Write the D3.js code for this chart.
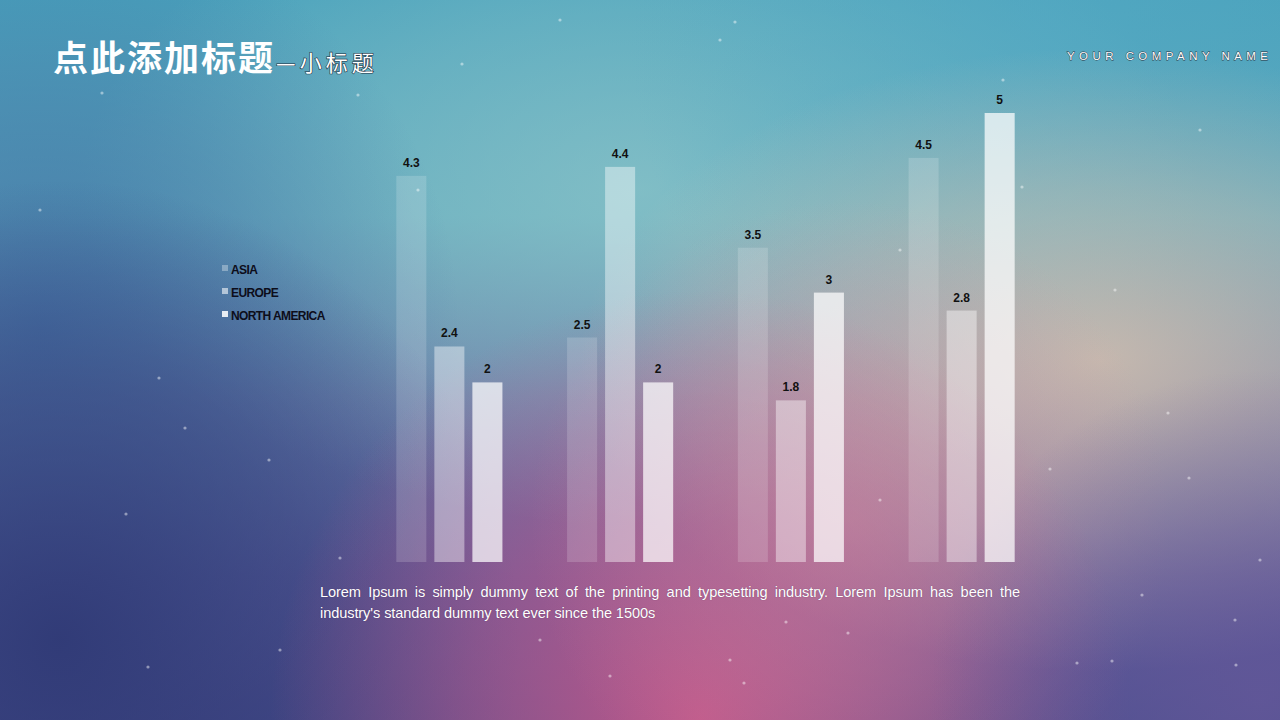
<!DOCTYPE html>
<html>
<head>
<meta charset="utf-8">
<script src="https://cdnjs.cloudflare.com/ajax/libs/d3/7.8.5/d3.min.js"></script>
<style>
html,body{margin:0;padding:0;width:1280px;height:720px;overflow:hidden;background:#4a6a9a;}
#wrap{position:relative;width:1280px;height:720px;}
svg{position:absolute;left:0;top:0;}
#desc{position:absolute;left:320px;top:582px;width:700px;color:#fff;font-family:"Liberation Sans",Arial,sans-serif;font-size:14.6px;line-height:21px;text-align:justify;text-align-last:left;letter-spacing:-0.1px;text-shadow:0 0 1px rgba(60,30,70,0.6);}
</style>
</head>
<body>
<div id="wrap">
<svg id="chart" width="1280" height="720"></svg>
<div id="desc">Lorem Ipsum is simply dummy text of the printing and typesetting industry. Lorem Ipsum has been the industry's standard dummy text ever since the 1500s</div>
</div>
<script>
const categories = ["Category 1", "Category 2", "Category 3", "Category 4"];
const seriesNames = ["ASIA", "EUROPE", "NORTH AMERICA"];
const asia = [4.3, 2.5, 3.5, 4.5];
const europe = [2.4, 4.4, 1.8, 2.8];
const northAmerica = [2, 2, 3, 5];
const seriesValues = [asia, europe, northAmerica];
const seriesOpacity = [0.17, 0.42, 0.72];
const titleText = "点此添加标题";
const subtitleText = "—小标题";
const companyText = "YOUR COMPANY NAME";

const svg = d3.select("#chart");
const defs = svg.append("defs");

// background gradients
const lin = defs.append("linearGradient").attr("id","bgLin").attr("x1",0).attr("y1",0).attr("x2",0).attr("y2",1);
[[0,"#4aa2bc"],[0.3,"#5fa8bc"],[0.55,"#6a7aa6"],[0.8,"#5a5a98"],[1,"#4a4f8e"]].forEach(s=>lin.append("stop").attr("offset",s[0]).attr("stop-color",s[1]));

function radial(id, cx, cy, r, color, op, sy){
  const g = defs.append("radialGradient").attr("id",id).attr("gradientUnits","userSpaceOnUse")
    .attr("cx",cx).attr("cy",cy).attr("r",r);
  if (sy) g.attr("gradientTransform",`translate(0,${cy}) scale(1,${sy}) translate(0,${-cy})`);
  g.append("stop").attr("offset",0).attr("stop-color",color).attr("stop-opacity",op);
  g.append("stop").attr("offset",0.55).attr("stop-color",color).attr("stop-opacity",op*0.5);
  g.append("stop").attr("offset",1).attr("stop-color",color).attr("stop-opacity",0);
  svg.append("rect").attr("width",1280).attr("height",720).attr("fill",`url(#${id})`);
}
svg.append("rect").attr("width",1280).attr("height",720).attr("fill","url(#bgLin)");
radial("gTop", 640, 190, 560, "#98cccc", 0.6, 0.6);
radial("gTopR", 1050, 40, 420, "#55aac4", 0.6);
radial("gLeft", 40, 330, 420, "#3d6aa2", 0.75);
radial("gBL", 60, 640, 460, "#2e3874", 0.9);
radial("gPeach", 1100, 360, 520, "#d6c0ae", 0.85, 0.6);
radial("gPink", 700, 720, 430, "#d45a8a", 0.85);
radial("gPinkMid", 850, 520, 320, "#d890a2", 0.45);
radial("gBR", 1260, 700, 330, "#66589a", 0.75);

// decorative stars
const stars = [[560,20],[735,22],[462,64],[720,40],[1003,80],[1022,187],[1115,290],[1168,413],[1189,478],[1050,469],[1142,595],[1077,663],[1112,661],[1236,665],[848,633],[786,622],[148,667],[102,93],[159,378],[185,428],[126,514],[340,558],[269,460],[40,210],[358,95],[418,190],[540,640],[610,676],[744,683],[730,660],[1260,560],[1200,130],[900,250],[880,500],[1235,620],[280,650]];
svg.append("g").selectAll("circle").data(stars).join("circle")
  .attr("cx",d=>d[0]).attr("cy",d=>d[1]).attr("r",1.6).attr("fill","#fff").attr("opacity",0.45);

// chart
const x0 = d3.scaleBand().domain(categories).range([364,1047]).paddingInner(0).paddingOuter(0);
const x1 = d3.scaleBand().domain(seriesNames).range([0,x0.bandwidth()]).paddingInner(0.21).paddingOuter(0.85);
const y = d3.scaleLinear().domain([0,5]).range([562,113]);

const groups = svg.append("g").selectAll("g").data(categories).join("g")
  .attr("transform",c=>`translate(${x0(c)},0)`);
groups.each(function(c, ci){
  const g = d3.select(this);
  const data = seriesNames.map((s,si)=>({s, si, v: seriesValues[si][ci]}));
  g.selectAll("rect").data(data).join("rect")
    .attr("x",d=>x1(d.s)).attr("width",x1.bandwidth())
    .attr("y",d=>y(d.v)).attr("height",d=>y(0)-y(d.v))
    .attr("fill","#fff").attr("fill-opacity",d=>seriesOpacity[d.si]);
  g.selectAll("text").data(data).join("text")
    .attr("x",d=>x1(d.s)+x1.bandwidth()/2).attr("y",d=>y(d.v)-9)
    .attr("text-anchor","middle")
    .attr("font-family","'Liberation Sans',Arial,sans-serif").attr("font-weight","bold")
    .attr("font-size",12).attr("fill","#111")
    .text(d=>d.v);
});

// legend
const legend = svg.append("g").attr("transform","translate(222,270)");
const lg = legend.selectAll("g").data(seriesNames).join("g").attr("transform",(d,i)=>`translate(0,${i*23})`);
lg.append("rect").attr("x",0).attr("y",-5).attr("width",6).attr("height",6)
  .attr("fill","#fff").attr("fill-opacity",(d,i)=>seriesOpacity[i]+0.15);
lg.append("text").attr("x",9).attr("y",0).attr("dy","0.35em")
  .attr("font-family","'Liberation Sans',Arial,sans-serif").attr("font-weight","bold")
  .attr("font-size",12).attr("letter-spacing",-0.6).attr("fill","#0d0d1a").text(d=>d);

// titles
const title = svg.append("text").attr("x",53).attr("y",71)
  .attr("font-family","'Noto Sans CJK SC',sans-serif").attr("font-weight","bold")
  .attr("font-size",35).attr("fill","#fff").attr("letter-spacing",2);
title.append("tspan").text(titleText);
title.append("tspan").attr("font-size",22).attr("font-weight","normal").attr("dx",1)
  .attr("stroke","#1c3040").attr("stroke-width",1.2).attr("paint-order","stroke")
  .attr("letter-spacing",4).text(subtitleText);

svg.append("text").attr("x",1067).attr("y",60)
  .attr("font-family","'Liberation Sans',Arial,sans-serif").attr("font-size",11.5)
  .attr("textLength",201).attr("lengthAdjust","spacing")
  .attr("fill","#fff").attr("stroke","#2a3440").attr("stroke-width",0.9).attr("paint-order","stroke")
  .text(companyText);
</script>
</body>
</html>
